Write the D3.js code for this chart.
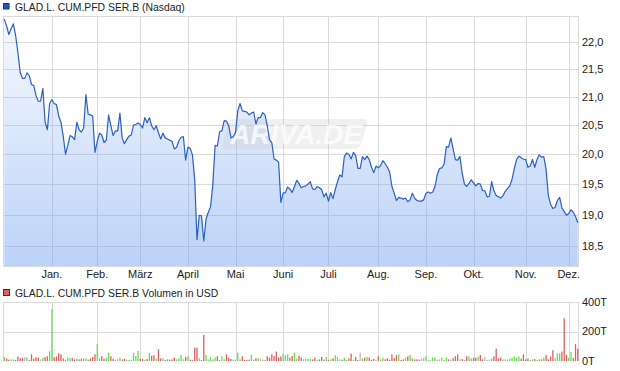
<!DOCTYPE html>
<html>
<head>
<meta charset="utf-8">
<script src="https://cdn.jsdelivr.net/npm/d3@7"></script>
<style>
  body { margin: 0; background: #fff; }
  svg { display: block; font-family: "Liberation Sans", Arial, sans-serif; }
</style>
</head>
<body>
<script>
const title = "GLAD.L. CUM.PFD SER.B (Nasdaq)";
const volumeTitle = "GLAD.L. CUM.PFD SER.B Volumen in USD";

// trading calendar
const firstDay = "2024-12-02";
const lastDay = "2025-12-05";
const holidays = ["2024-12-25", "2025-01-01", "2025-01-09", "2025-01-20", "2025-02-17",
  "2025-04-18", "2025-05-26", "2025-06-19", "2025-07-04", "2025-09-01", "2025-11-27"];
const monthLabels = ["Jan.", "Feb.", "März", "April", "Mai", "Juni", "Juli", "Aug.", "Sep.", "Okt.", "Nov.", "Dez."];

const priceTicks = [18.5, 19, 19.5, 20, 20.5, 21, 21.5, 22];
const volumeTicks = [0, 200, 400];

// daily close, USD
const prices = [
  22.43, 22.30, 22.14, 22.25, 22.34, 22.12, 21.80, 21.44, 21.33, 21.33,
  21.43, 21.38, 21.22, 21.20, 21.02, 20.92, 20.92, 21.15, 20.55, 20.42,
  20.88, 20.95, 20.88, 20.86, 20.66, 20.55, 20.31, 20.00, 20.15, 20.32,
  20.30, 20.25, 20.55, 20.42, 20.38, 20.45, 21.04, 20.69, 20.68, 20.66,
  20.03, 20.22, 20.36, 20.33, 20.20, 20.24, 20.68, 20.49, 20.32, 20.40,
  20.40, 20.71, 20.28, 20.18, 20.25, 20.31, 20.33, 20.50, 20.51, 20.54,
  20.51, 20.45, 20.63, 20.54, 20.63, 20.49, 20.42, 20.49, 20.37, 20.26,
  20.36, 20.28, 20.26, 20.24, 20.22, 20.09, 20.12, 20.23, 20.29, 20.30,
  19.90, 20.12, 20.10, 19.99, 19.58, 18.60, 18.99, 18.98, 18.58, 18.93,
  19.04, 19.13, 19.50, 20.15, 20.14, 20.39, 20.40, 20.58, 20.57, 20.49,
  20.28, 20.30, 20.37, 20.75, 20.88, 20.75, 20.74, 20.73, 20.68, 20.71,
  20.73, 20.52, 20.63, 20.63, 20.72, 20.68, 20.49, 20.25, 20.20, 19.92,
  19.90, 19.87, 19.20, 19.35, 19.36, 19.45, 19.42, 19.36, 19.46, 19.56,
  19.51, 19.44, 19.46, 19.47, 19.50, 19.54, 19.42, 19.41, 19.46, 19.44,
  19.41, 19.29, 19.35, 19.22, 19.36, 19.26, 19.41, 19.54, 19.65, 19.62,
  19.96, 20.02, 20.00, 19.92, 20.03, 19.98, 19.76, 19.76, 19.96, 19.91,
  19.97, 19.91, 19.78, 19.69, 19.80, 19.77, 19.81, 19.89, 19.84, 19.78,
  19.70, 19.46, 19.35, 19.23, 19.28, 19.27, 19.25, 19.27, 19.21, 19.24,
  19.35, 19.27, 19.23, 19.22, 19.22, 19.24, 19.35, 19.37, 19.35, 19.37,
  19.46, 19.66, 19.76, 19.77, 19.83, 20.13, 20.12, 20.28, 20.09, 19.91,
  19.90, 19.96, 19.68, 19.50, 19.46, 19.51, 19.57, 19.52, 19.47, 19.51,
  19.50, 19.39, 19.39, 19.29, 19.30, 19.54, 19.39, 19.31, 19.29, 19.27,
  19.31, 19.38, 19.43, 19.47, 19.58, 19.76, 19.91, 19.97, 19.94, 19.92,
  19.91, 19.78, 19.80, 19.91, 19.78, 19.91, 19.99, 19.95, 19.96, 19.75,
  19.31, 19.17, 19.10, 19.12, 19.23, 19.28, 19.11, 19.05, 18.99, 19.02,
  19.08, 19.04, 18.97, 18.87
];

// daily volume, thousand USD (T)
const volumes = [
  27, 18, 9, 11, 11, 7, 30, 18, 20, 25,
  25, 7, 45, 16, 25, 23, 11, 23, 27, 32,
  66, 352, 25, 30, 52, 45, 18, 9, 23, 20,
  20, 11, 16, 11, 16, 18, 18, 9, 18, 27,
  45, 114, 18, 32, 16, 23, 57, 32, 14, 9,
  14, 23, 11, 16, 9, 7, 9, 55, 34, 68,
  14, 14, 9, 14, 55, 34, 39, 18, 80, 18,
  18, 7, 11, 9, 11, 23, 11, 18, 41, 11,
  27, 32, 9, 7, 91, 91, 18, 7, 177, 41,
  11, 27, 11, 23, 32, 7, 32, 11, 45, 23,
  14, 9, 9, 57, 11, 32, 7, 7, 9, 41,
  9, 18, 18, 16, 9, 5, 32, 23, 45, 34,
  64, 23, 30, 50, 39, 45, 23, 34, 57, 16,
  36, 23, 11, 14, 14, 14, 11, 23, 7, 11,
  27, 9, 27, 7, 11, 18, 39, 27, 11, 9,
  23, 7, 18, 50, 9, 27, 7, 57, 18, 23,
  27, 23, 9, 14, 5, 32, 11, 23, 11, 18,
  9, 45, 20, 39, 45, 7, 11, 23, 32, 41,
  18, 11, 11, 9, 18, 18, 32, 7, 5, 23,
  23, 9, 11, 23, 7, 23, 11, 9, 20, 32,
  45, 11, 14, 5, 32, 32, 18, 23, 23, 30,
  41, 11, 27, 5, 9, 18, 32, 84, 18, 23,
  11, 11, 9, 16, 23, 30, 23, 32, 16, 45,
  11, 16, 7, 11, 14, 7, 11, 11, 23, 41,
  11, 30, 73, 18, 52, 52, 64, 290, 41, 23,
  61, 20, 114, 84
];

const width = 620;
const height = 371;
const plot = { left: 3, right: 578, top: 16, bottom: 266 };
const vol = { top: 302, bottom: 361 };

const parse = d3.timeParse("%Y-%m-%d");
const fmtDay = d3.timeFormat("%Y-%m-%d");
const days = d3.timeDay.range(parse(firstDay), d3.timeDay.offset(parse(lastDay), 1))
  .filter(d => d.getDay() % 6 !== 0 && !holidays.includes(fmtDay(d)));

const data = days.map((d, i) => ({ date: d, close: prices[i], volume: volumes[i], i }));

// first trading day of every month after the start
const monthStarts = data.filter((d, i) => i > 0 && d.date.getMonth() !== data[i - 1].date.getMonth());

const de = d3.formatLocale({ decimal: ",", thousands: ".", grouping: [3], currency: ["", " $"] });
const fmtPrice = de.format(".1f");

const svg = d3.select("body").append("svg")
  .attr("width", width)
  .attr("height", height);

const x = d3.scaleLinear()
  .domain([0, data.length - 1])
  .range([4.3, 577.8]);

const y = d3.scaleLog()
  .domain([18.19, 22.49])
  .range([plot.bottom, plot.top]);

const yVol = d3.scaleLinear()
  .domain([0, 400])
  .range([vol.bottom, vol.top]);

const defs = svg.append("defs");
const grad = defs.append("linearGradient")
  .attr("id", "fillGrad")
  .attr("gradientUnits", "userSpaceOnUse")
  .attr("x1", 0).attr("x2", 0)
  .attr("y1", plot.top).attr("y2", plot.bottom);
grad.append("stop").attr("offset", 0).attr("stop-color", "rgb(120,165,240)").attr("stop-opacity", 0.06);
grad.append("stop").attr("offset", 1).attr("stop-color", "rgb(120,165,240)").attr("stop-opacity", 0.5);

const gridColor = "#dadada";

// legend
svg.append("rect")
  .attr("x", 3.5).attr("y", 3.5).attr("width", 5.5).attr("height", 5.5)
  .attr("fill", "#2153b8").attr("stroke", "#17357a");
svg.append("text")
  .attr("x", 15).attr("y", 10.5)
  .attr("font-size", 10.4).attr("fill", "#222")
  .text(title);

// price grid
const gPrice = svg.append("g");
gPrice.selectAll("line.h")
  .data(priceTicks)
  .enter()
  .append("line")
    .attr("x1", plot.left).attr("x2", plot.right)
    .attr("y1", d => Math.round(y(d)) + 0.5).attr("y2", d => Math.round(y(d)) + 0.5)
    .attr("stroke", gridColor);

gPrice.selectAll("line.v")
  .data(monthStarts)
  .enter()
  .append("line")
    .attr("x1", d => Math.round(x(d.i)) + 0.5).attr("x2", d => Math.round(x(d.i)) + 0.5)
    .attr("y1", plot.top).attr("y2", plot.bottom)
    .attr("stroke", gridColor);

gPrice.append("rect")
  .attr("x", plot.left + 0.5).attr("y", plot.top + 0.5)
  .attr("width", plot.right - plot.left).attr("height", plot.bottom - plot.top)
  .attr("fill", "none").attr("stroke", gridColor);

// price area + line
const area = d3.area()
  .x(d => x(d.i))
  .y0(plot.bottom)
  .y1(d => y(d.close));

const line = d3.line()
  .x(d => x(d.i))
  .y(d => y(d.close));

svg.append("path")
  .datum(data)
  .attr("d", area)
  .attr("fill", "url(#fillGrad)");

// watermark
const wm = svg.append("g").attr("transform", "translate(223,119)");
wm.append("path")
  .attr("d", "M10,0 H140 Q146,0 144,6 L138,25 Q136,30 130,30 H4 Q-2,30 0,24 L5,5 Q7,0 10,0 Z")
  .attr("fill", "#c8c8c8").attr("opacity", 0.28);
wm.append("text")
  .attr("x", 73).attr("y", 25)
  .attr("text-anchor", "middle")
  .attr("font-size", 28).attr("font-weight", "bold").attr("font-style", "italic")
  .attr("fill", "#fff").attr("opacity", 0.75)
  .text("ARIVA.DE");

svg.append("path")
  .datum(data)
  .attr("d", line)
  .attr("fill", "none")
  .attr("stroke", "#2b5fc4")
  .attr("stroke-width", 1.2)
  .attr("stroke-linejoin", "round");

// axes labels
svg.append("g")
  .selectAll("text")
  .data(priceTicks)
  .enter()
  .append("text")
    .attr("x", 582)
    .attr("y", d => y(d))
    .attr("dy", "0.35em")
    .attr("font-size", 11).attr("fill", "#222")
    .text(d => fmtPrice(d));

svg.append("g")
  .selectAll("text")
  .data(monthStarts)
  .enter()
  .append("text")
    .attr("x", d => x(d.i))
    .attr("y", 278)
    .attr("text-anchor", "middle")
    .attr("font-size", 11).attr("fill", "#222")
    .text(d => monthLabels[d.date.getMonth()]);

// volume panel
svg.append("rect")
  .attr("x", 3.5).attr("y", 289.5).attr("width", 6).attr("height", 6)
  .attr("fill", "#e06464").attr("stroke", "#333");
svg.append("text")
  .attr("x", 15).attr("y", 296.5)
  .attr("font-size", 10.4).attr("fill", "#222")
  .text(volumeTitle);

const gVol = svg.append("g");
gVol.selectAll("line.h")
  .data(volumeTicks.filter(d => d > 0))
  .enter()
  .append("line")
    .attr("x1", plot.left).attr("x2", plot.right)
    .attr("y1", d => Math.round(yVol(d)) + 0.5).attr("y2", d => Math.round(yVol(d)) + 0.5)
    .attr("stroke", gridColor);

gVol.selectAll("line.v")
  .data(monthStarts)
  .enter()
  .append("line")
    .attr("x1", d => Math.round(x(d.i)) + 0.5).attr("x2", d => Math.round(x(d.i)) + 0.5)
    .attr("y1", vol.top).attr("y2", vol.bottom)
    .attr("stroke", gridColor);

gVol.append("line")
  .attr("x1", plot.left + 0.5).attr("x2", plot.left + 0.5)
  .attr("y1", vol.top).attr("y2", vol.bottom)
  .attr("stroke", gridColor);
gVol.append("line")
  .attr("x1", plot.right + 0.5).attr("x2", plot.right + 0.5)
  .attr("y1", vol.top).attr("y2", vol.bottom)
  .attr("stroke", gridColor);

function barColor(d, i) {
  if (i === 0 || d.close > data[i - 1].close) return "#66dd55";
  if (d.close < data[i - 1].close) return "#dd5f5f";
  return "#bbbbbb";
}

svg.selectAll("rect.volume")
  .data(data)
  .enter()
  .append("rect")
    .attr("class", "volume")
    .attr("x", d => x(d.i) - 0.65)
    .attr("y", d => yVol(d.volume))
    .attr("width", 1.3)
    .attr("height", d => yVol(0) - yVol(d.volume))
    .attr("fill", (d, i) => barColor(d, i));

svg.append("g")
  .selectAll("text")
  .data(volumeTicks)
  .enter()
  .append("text")
    .attr("x", 582)
    .attr("y", d => yVol(d))
    .attr("dy", "0.35em")
    .attr("font-size", 11).attr("fill", "#222")
    .text(d => d + "T");
</script>
</body>
</html>
